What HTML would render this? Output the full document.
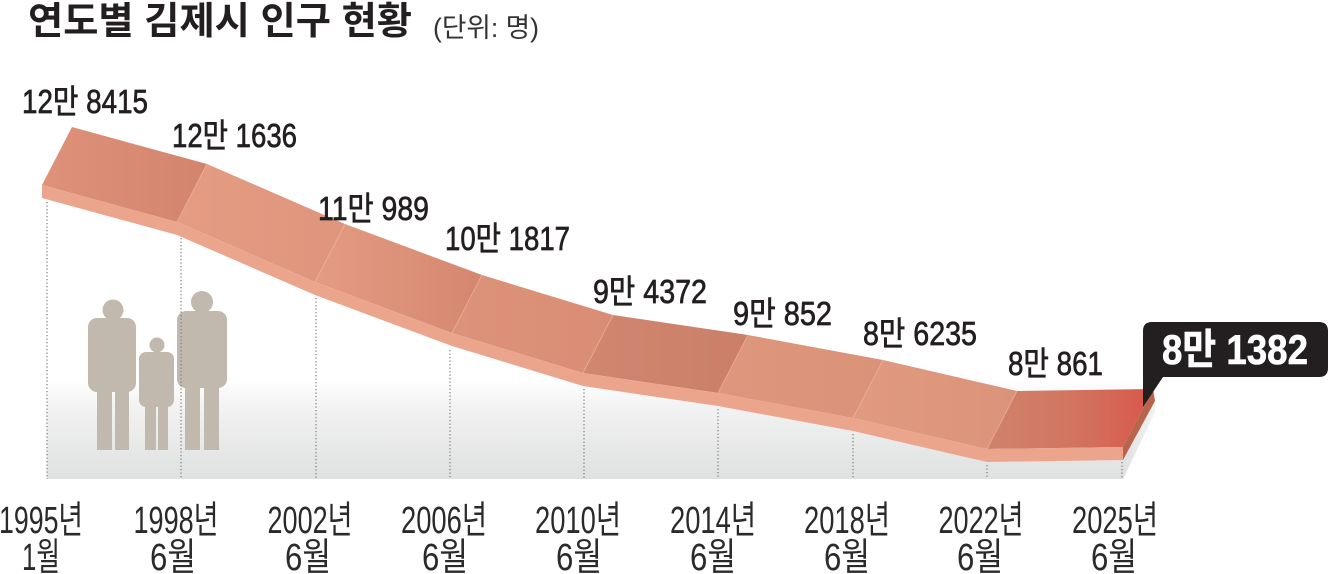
<!DOCTYPE html>
<html>
<head>
<meta charset="utf-8">
<style>
  html,body{margin:0;padding:0;background:#fff;}
  svg{display:block;}
  .t{font-family:"Liberation Sans","Noto Sans CJK KR",sans-serif;}
</style>
</head>
<body>
<svg width="1329" height="574" viewBox="0 0 1329 574" xmlns="http://www.w3.org/2000/svg">
  <defs>
    <linearGradient id="floor" x1="0" y1="380" x2="0" y2="479" gradientUnits="userSpaceOnUse">
      <stop offset="0" stop-color="#ffffff"/>
      <stop offset="0.25" stop-color="#f3f3f3"/>
      <stop offset="1" stop-color="#dfe0e0"/>
    </linearGradient>
    <linearGradient id="g0" x1="0" x2="1" y1="0" y2="0"><stop offset="0" stop-color="#de9279"/><stop offset="1" stop-color="#d3846c"/></linearGradient>
    <linearGradient id="g1" x1="0" x2="1" y1="0" y2="0"><stop offset="0" stop-color="#e49c83"/><stop offset="1" stop-color="#de957c"/></linearGradient>
    <linearGradient id="g2" x1="0" x2="1" y1="0" y2="0"><stop offset="0" stop-color="#e49c83"/><stop offset="1" stop-color="#d4876e"/></linearGradient>
    <linearGradient id="g3" x1="0" x2="1" y1="0" y2="0"><stop offset="0" stop-color="#dd927a"/><stop offset="1" stop-color="#d98d75"/></linearGradient>
    <linearGradient id="g4" x1="0" x2="1" y1="0" y2="0"><stop offset="0" stop-color="#d08670"/><stop offset="1" stop-color="#cb7f69"/></linearGradient>
    <linearGradient id="g5" x1="0" x2="1" y1="0" y2="0"><stop offset="0" stop-color="#de967c"/><stop offset="1" stop-color="#da9278"/></linearGradient>
    <linearGradient id="g6" x1="0" x2="1" y1="0" y2="0"><stop offset="0" stop-color="#e09a80"/><stop offset="1" stop-color="#db947a"/></linearGradient>
    <linearGradient id="g7" x1="0" x2="1" y1="0" y2="0"><stop offset="0" stop-color="#cf836b"/><stop offset="0.55" stop-color="#d2735f"/><stop offset="1" stop-color="#d9574b"/></linearGradient>
    <linearGradient id="sh" x1="0" y1="0" x2="1" y2="0"><stop offset="0" stop-color="#e0e1e1"/><stop offset="1" stop-color="#f2f2f2"/></linearGradient>
  </defs>

  <!-- floor -->
  <polygon points="47,380 1155,380 1155,412 1123,479 47,479" fill="url(#floor)"/>
  <polygon points="1123,460 1155,402 1155,412 1123,479" fill="url(#sh)"/>

  <!-- people -->
  <g fill="#c1b9ae">
    <circle cx="113" cy="310" r="10.5"/>
    <rect x="88" y="318" width="48" height="74" rx="9"/>
    <rect x="97" y="385" width="15" height="65"/>
    <rect x="115" y="385" width="14" height="65"/>

    <circle cx="157" cy="345" r="7.5"/>
    <rect x="139" y="352" width="35" height="55" rx="7"/>
    <rect x="145" y="400" width="11" height="50"/>
    <rect x="158" y="400" width="10" height="50"/>

    <circle cx="202" cy="302" r="11"/>
    <rect x="177" y="311" width="50" height="77" rx="9"/>
    <rect x="185" y="380" width="15" height="70"/>
    <rect x="204" y="380" width="15" height="70"/>
  </g>

  <!-- dotted guides -->
  <g stroke="#7a7a7a" stroke-width="1.2" stroke-dasharray="1.3 2.2" fill="none">
    <line x1="47" y1="202" x2="47" y2="479"/>
    <line x1="181" y1="238" x2="181" y2="479"/>
    <line x1="316" y1="298" x2="316" y2="479"/>
    <line x1="450" y1="350" x2="450" y2="479"/>
    <line x1="584" y1="389" x2="584" y2="479"/>
    <line x1="718" y1="409" x2="718" y2="479"/>
    <line x1="853" y1="434" x2="853" y2="479"/>
    <line x1="987" y1="465" x2="987" y2="479"/>
    <line x1="1122" y1="462" x2="1122" y2="479"/>
  </g>

  <!-- ribbon top faces -->
  <polygon points="42,185 177,222 207,164 72,127" fill="url(#g0)"/>
  <polygon points="177,222 315,282 345,224 207,164" fill="url(#g1)"/>
  <polygon points="315,282 452,333 482,275 345,224" fill="url(#g2)"/>
  <polygon points="452,333 583,373 613,315 482,275" fill="url(#g3)"/>
  <polygon points="583,373 718,393 748,335 613,315" fill="url(#g4)"/>
  <polygon points="718,393 853,418 883,360 748,335" fill="url(#g5)"/>
  <polygon points="853,418 987,449 1017,391 883,360" fill="url(#g6)"/>
  <polygon points="987,449 1123,447 1153,389 1017,391" fill="url(#g7)"/>

  <!-- fold lines -->
  <g stroke="#eeb29c" stroke-width="1" opacity="0.7">
    <line x1="177" y1="222" x2="207" y2="164"/>
    <line x1="315" y1="282" x2="345" y2="224"/>
    <line x1="452" y1="333" x2="482" y2="275"/>
    <line x1="583" y1="373" x2="613" y2="315"/>
    <line x1="718" y1="393" x2="748" y2="335"/>
    <line x1="853" y1="418" x2="883" y2="360"/>
    <line x1="987" y1="449" x2="1017" y2="391"/>
  </g>

  <!-- ribbon front face -->
  <polygon points="42,185 177,222 315,282 452,333 583,373 718,393 853,418 987,449 1123,447 1123,460 987,462 853,431 718,406 583,386 452,346 315,295 177,235 42,198" fill="#eca58d"/>
  <!-- end cap -->
  <polygon points="1123,447 1153,389 1155,401 1123,460" fill="#b9644d"/>

  <!-- callout -->
  <path d="M1152,322 H1319 Q1328,322 1328,331 V368 Q1328,377 1319,377 H1163 L1143,407 V331 Q1143,322 1152,322 Z" fill="#231f20"/>
  <text class="t" x="1235" y="364" text-anchor="middle" font-size="42" font-weight="bold" fill="#ffffff" stroke="#ffffff" stroke-width="0.6" textLength="146" lengthAdjust="spacingAndGlyphs">8만 1382</text>

  <!-- title -->
  <text class="t" x="28" y="34" font-size="38" font-weight="bold" fill="#231f20" textLength="384" lengthAdjust="spacingAndGlyphs">연도별 김제시 인구 현황</text>
  <text class="t" x="433" y="37" font-size="27" fill="#333" textLength="106" lengthAdjust="spacingAndGlyphs">(단위: 명)</text>

  <!-- value labels -->
  <g class="t" font-size="33" fill="#231f20" stroke="#231f20" stroke-width="0.7">
    <text x="22" y="113" textLength="126" lengthAdjust="spacingAndGlyphs">12만 8415</text>
    <text x="172" y="147" textLength="125" lengthAdjust="spacingAndGlyphs">12만 1636</text>
    <text x="318" y="220" textLength="111" lengthAdjust="spacingAndGlyphs">11만 989</text>
    <text x="445" y="250" textLength="125" lengthAdjust="spacingAndGlyphs">10만 1817</text>
    <text x="593" y="303" textLength="114" lengthAdjust="spacingAndGlyphs">9만 4372</text>
    <text x="733" y="325" textLength="99" lengthAdjust="spacingAndGlyphs">9만 852</text>
    <text x="863" y="345" textLength="114" lengthAdjust="spacingAndGlyphs">8만 6235</text>
    <text x="1008" y="375" textLength="95" lengthAdjust="spacingAndGlyphs">8만 861</text>
  </g>

  <!-- x-axis labels -->
  <g class="t" font-size="38" fill="#2a2a2a" text-anchor="middle">
    <text x="41" y="533" textLength="84" lengthAdjust="spacingAndGlyphs">1995년</text>
    <text x="41" y="570" textLength="38" lengthAdjust="spacingAndGlyphs">1월</text>
    <text x="176" y="533" textLength="85" lengthAdjust="spacingAndGlyphs">1998년</text>
    <text x="173" y="570" textLength="46" lengthAdjust="spacingAndGlyphs">6월</text>
    <text x="310" y="533" textLength="85" lengthAdjust="spacingAndGlyphs">2002년</text>
    <text x="308" y="570" textLength="46" lengthAdjust="spacingAndGlyphs">6월</text>
    <text x="444" y="533" textLength="86" lengthAdjust="spacingAndGlyphs">2006년</text>
    <text x="445" y="570" textLength="46" lengthAdjust="spacingAndGlyphs">6월</text>
    <text x="578" y="533" textLength="86" lengthAdjust="spacingAndGlyphs">2010년</text>
    <text x="579" y="570" textLength="46" lengthAdjust="spacingAndGlyphs">6월</text>
    <text x="713" y="533" textLength="86" lengthAdjust="spacingAndGlyphs">2014년</text>
    <text x="713" y="570" textLength="46" lengthAdjust="spacingAndGlyphs">6월</text>
    <text x="847" y="533" textLength="86" lengthAdjust="spacingAndGlyphs">2018년</text>
    <text x="847" y="570" textLength="46" lengthAdjust="spacingAndGlyphs">6월</text>
    <text x="981" y="533" textLength="85" lengthAdjust="spacingAndGlyphs">2022년</text>
    <text x="980" y="570" textLength="46" lengthAdjust="spacingAndGlyphs">6월</text>
    <text x="1115" y="533" textLength="86" lengthAdjust="spacingAndGlyphs">2025년</text>
    <text x="1114" y="570" textLength="46" lengthAdjust="spacingAndGlyphs">6월</text>
  </g>
</svg>
</body>
</html>
